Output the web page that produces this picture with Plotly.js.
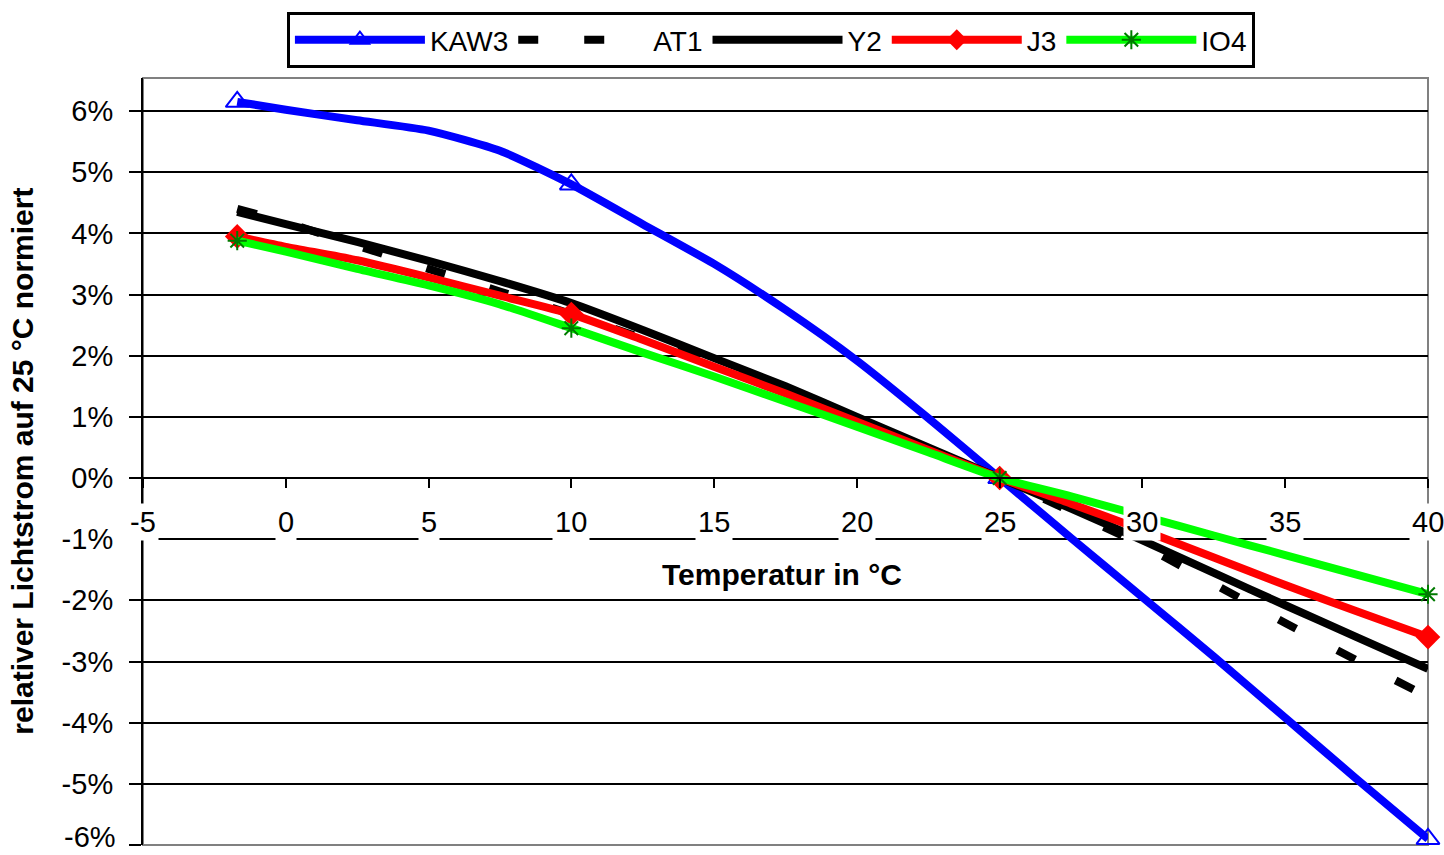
<!DOCTYPE html>
<html>
<head>
<meta charset="utf-8">
<script src="https://cdn.plot.ly/plotly-3.0.1.min.js"></script>
<style>html,body{margin:0;padding:0;background:#fff;}#chart{width:1444px;height:855px;}</style>
</head>
<body>
<div id="chart"></div>
<script>
// Temperatures (°C) at which the curves were read
const temps = [-1.7, 0, 2.5, 5, 7.5, 10, 12.5, 15, 17.5, 20, 22.5, 25, 27.5, 30, 32.5, 35, 37.5, 40];
// Temperatures where the measured points carry a marker
const markerTemps = [-1.7, 10, 25, 40];

// Relative luminous flux, normalised to 25 °C (in %)
const kaw3 = [6.15, 6.02, 5.85, 5.68, 5.35, 4.8, 4.15, 3.5, 2.75, 1.92, 0.98, 0, -0.98, -1.95, -2.92, -3.92, -4.92, -5.9];
const at1  = [4.4, 4.18, 3.8, 3.42, 3.05, 2.68, 2.28, 1.85, 1.4, 0.93, 0.47, 0, -0.55, -1.1, -1.73, -2.37, -2.98, -3.58];
const y2   = [4.35, 4.15, 3.86, 3.55, 3.22, 2.86, 2.42, 1.96, 1.5, 1.0, 0.5, 0, -0.5, -1.02, -1.55, -2.08, -2.6, -3.12];
const j3   = [3.95, 3.78, 3.56, 3.28, 2.98, 2.68, 2.26, 1.82, 1.38, 0.92, 0.46, 0, -0.42, -0.85, -1.3, -1.75, -2.18, -2.6];
const io4  = [3.88, 3.7, 3.42, 3.15, 2.84, 2.45, 2.05, 1.66, 1.25, 0.84, 0.42, 0, -0.3, -0.62, -0.94, -1.26, -1.58, -1.9];

const seriesNames = ['KAW3', 'AT1', 'Y2', 'J3', 'IO4'];

// Axis ticks
const xTicks = [-5, 0, 5, 10, 15, 20, 25, 30, 35, 40];
const yTicks = [-6, -5, -4, -3, -2, -1, 0, 1, 2, 3, 4, 5, 6];
const yTickText = yTicks.map(v => v + '%');

const FONT = '"Liberation Sans", Arial, sans-serif';
const yMin = -6, yMax = 6.54;

function markColors(color) {
  return temps.map(t => markerTemps.includes(t) ? color : 'rgba(0,0,0,0)');
}

const LW = 8;
const traces = [
  {
    name: seriesNames[0], x: temps, y: kaw3, type: 'scatter', mode: 'lines+markers',
    line: {color: '#0000ff', width: LW, shape: 'spline', smoothing: 0.6},
    marker: {symbol: 'triangle-up-open', size: 20, color: markColors('#0000ff'), line: {width: 2}},
    cliponaxis: false
  },
  {
    name: seriesNames[1], x: temps, y: at1, type: 'scatter', mode: 'lines',
    line: {color: '#000000', width: LW, dash: '20px,46px', shape: 'spline', smoothing: 0.6}
  },
  {
    name: seriesNames[2], x: temps, y: y2, type: 'scatter', mode: 'lines',
    line: {color: '#000000', width: LW, shape: 'spline', smoothing: 0.6}
  },
  {
    name: seriesNames[3], x: temps, y: j3, type: 'scatter', mode: 'lines+markers',
    line: {color: '#ff0000', width: LW, shape: 'spline', smoothing: 0.6},
    marker: {symbol: 'diamond', size: 19, color: markColors('#ff0000')},
    cliponaxis: false
  },
  {
    name: seriesNames[4], x: temps, y: io4, type: 'scatter', mode: 'lines+markers',
    line: {color: '#00ff00', width: LW, shape: 'spline', smoothing: 0.6},
    marker: {symbol: 'asterisk-open', size: 16, color: markColors('#007a00'), line: {width: 2}},
    cliponaxis: false
  }
];

const zeroFrac = (0 - yMin) / (yMax - yMin);
const tickFont = {family: FONT, size: 29, color: '#000'};

const annotations = xTicks.map(v => ({
  x: v, xref: 'x', y: -0.72, yref: 'y', text: String(v), showarrow: false,
  font: tickFont, bgcolor: '#ffffff', borderpad: 2,
  xanchor: 'center', yanchor: 'middle'
}));
// lowest y tick label, nudged up slightly so it stays inside the picture
annotations.push({
  x: 0, xref: 'paper', xshift: -25, y: yTicks[0], yref: 'y', yshift: 8,
  text: yTickText[0], showarrow: false, font: tickFont, xanchor: 'right', yanchor: 'middle'
});
annotations.push({
  x: 0.497, xref: 'paper', y: -1.58, yref: 'y', text: 'Temperatur in °C', showarrow: false,
  font: {family: FONT, size: 30, color: '#000', weight: 700}, xanchor: 'center', yanchor: 'middle'
});
annotations.push({
  x: -0.094, xref: 'paper', y: 0.5, yref: 'paper', text: 'relativer Lichtstrom auf 25 °C normiert',
  textangle: -90, showarrow: false,
  font: {family: FONT, size: 30, color: '#000', weight: 700}, xanchor: 'center', yanchor: 'middle'
});

const layout = {
  width: 1444, height: 855,
  margin: {l: 143, r: 16, t: 78, b: 10, pad: 0},
  paper_bgcolor: '#ffffff', plot_bgcolor: '#ffffff',
  font: {family: FONT, size: 29, color: '#000'},
  showlegend: true,
  legend: {
    orientation: 'h', x: 0.112, xanchor: 'left', y: 1.086, yanchor: 'top',
    bordercolor: '#000', borderwidth: 3, bgcolor: '#fff',
    font: {family: FONT, size: 28, color: '#000'}, itemwidth: 130, tracegroupgap: 0
  },
  xaxis: {
    range: [-5, 40], anchor: 'free', position: zeroFrac,
    tickvals: xTicks, showticklabels: false,
    ticks: 'outside', ticklen: 9, tickwidth: 2, tickcolor: '#000',
    showline: true, linecolor: '#000', linewidth: 2,
    showgrid: false, zeroline: false, fixedrange: true
  },
  yaxis: {
    range: [yMin, yMax], tickvals: yTicks,
    ticktext: yTickText.map((t, i) => i === 0 ? '' : t),
    ticks: 'outside', ticklen: 12, tickwidth: 2, tickcolor: '#000', ticklabelstandoff: 10,
    tickfont: tickFont,
    showline: true, linecolor: '#000', linewidth: 2,
    showgrid: true, gridcolor: '#000', gridwidth: 2, zeroline: false, fixedrange: true
  },
  shapes: [{
    type: 'rect', xref: 'paper', yref: 'paper', x0: 0, x1: 1, y0: 0, y1: 1,
    line: {color: '#808080', width: 2}, layer: 'below'
  }],
  annotations: annotations
};

Plotly.newPlot('chart', traces, layout, {staticPlot: true, displayModeBar: false});
</script>
</body>
</html>
